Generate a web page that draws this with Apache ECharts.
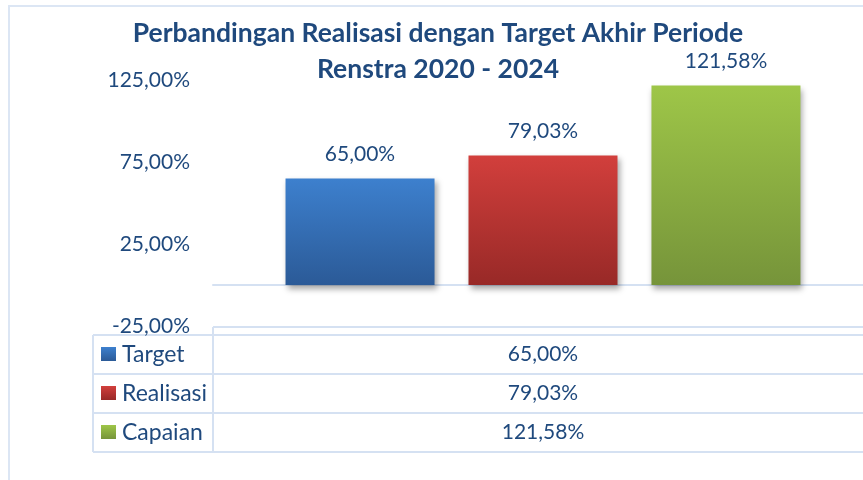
<!DOCTYPE html>
<html>
<head>
<meta charset="utf-8">
<script src="https://cdn.jsdelivr.net/npm/echarts@6/dist/echarts.min.js"></script>
<style>
  html, body { margin: 0; padding: 0; background: #fff; }
  #chart { width: 863px; height: 480px; }
</style>
</head>
<body>
<div id="chart"></div>
<script>
const seriesNames = ['Target', 'Realisasi', 'Capaian']
const seriesValues = [65.0, 79.03, 121.58]
const categories = ['']
const yTicks = [-25, 25, 75, 125]

const barColors = [
  ['#3D80CE', '#2B5A97'],
  ['#D23F3C', '#982927'],
  ['#9EC648', '#76943A'],
]

const textColor = '#1F497D'
const lineColor = '#D5E1F2'
const font = 'Lato, "Noto Sans", sans-serif'

const fmt = (v) => v.toFixed(2).replace('.', ',') + '%'

const grad = (c) => new echarts.graphic.LinearGradient(0, 0, 0, 1, [
  { offset: 0, color: c[0] },
  { offset: 1, color: c[1] },
])

const chart = echarts.init(document.getElementById('chart'))

const series = seriesNames.map((name, i) => ({
  name,
  type: 'bar',
  data: [seriesValues[i]],
  barWidth: 149,
  barGap: '22.8%',
  itemStyle: {
    color: grad(barColors[i]),
    shadowColor: 'rgba(0,0,0,0.35)',
    shadowBlur: 6,
    shadowOffsetX: 2,
    shadowOffsetY: 4,
  },
  label: {
    show: true,
    position: 'top',
    distance: 14,
    formatter: (p) => fmt(p.value),
    color: textColor,
    fontFamily: font,
    fontSize: 21,
  },
}))

// data table under the plot
const tableLeft = 93
const tableSplit = 213
const tableTop = 335
const rowH = 39
const right = 880
const graphics = [
  { type: 'rect', shape: { x: 9, y: 6, width: 900, height: 500 }, style: { fill: 'none', stroke: '#DCE6F4', lineWidth: 2 } },
  { type: 'line', shape: { x1: tableSplit, y1: 327, x2: right, y2: 327 }, style: { stroke: lineColor, lineWidth: 2 } },
  { type: 'line', shape: { x1: tableSplit, y1: 327, x2: tableSplit, y2: tableTop + rowH * 3 }, style: { stroke: lineColor, lineWidth: 2 } },
  { type: 'line', shape: { x1: tableLeft, y1: tableTop, x2: tableLeft, y2: tableTop + rowH * 3 }, style: { stroke: lineColor, lineWidth: 2 } },
]
for (let r = 0; r <= seriesNames.length; r++) {
  graphics.push({ type: 'line', shape: { x1: tableLeft, y1: tableTop + rowH * r, x2: right, y2: tableTop + rowH * r }, style: { stroke: lineColor, lineWidth: 2 } })
}
seriesNames.forEach((name, i) => {
  const cy = tableTop + rowH * i + rowH / 2
  graphics.push({ type: 'rect', shape: { x: 101, y: cy - 7.5, width: 15, height: 14 }, style: { fill: grad(barColors[i]) } })
  graphics.push({ type: 'text', x: 122, y: cy, style: { text: name, fill: textColor, font: '23px ' + font, textVerticalAlign: 'middle' } })
  graphics.push({ type: 'text', x: 543, y: cy, style: { text: fmt(seriesValues[i]), fill: textColor, font: '21px ' + font, textAlign: 'center', textVerticalAlign: 'middle' } })
})

chart.setOption({
  animation: false,
  title: {
    text: 'Perbandingan Realisasi dengan Target Akhir Periode\nRenstra 2020 - 2024',
    left: 433,
    top: 10,
    textAlign: 'center',
    textStyle: {
      color: textColor,
      fontFamily: font,
      fontWeight: 'bold',
      fontSize: 26.5,
      lineHeight: 36,
    },
  },
  grid: { left: 213, top: 80, width: 660, height: 246, outerBoundsMode: 'none' },
  xAxis: {
    type: 'category',
    data: categories,
    axisLine: { onZero: true, lineStyle: { color: lineColor, width: 2 } },
    axisTick: { show: false },
    axisLabel: { show: false },
  },
  yAxis: {
    type: 'value',
    min: yTicks[0],
    max: yTicks[yTicks.length - 1],
    interval: 50,
    splitLine: { show: false },
    axisLine: { show: false },
    axisTick: { show: false },
    axisLabel: {
      margin: 23,
      formatter: (v) => fmt(v),
      color: textColor,
      fontFamily: font,
      fontSize: 21,
    },
  },
  series,
  graphic: graphics,
})
</script>
</body>
</html>
